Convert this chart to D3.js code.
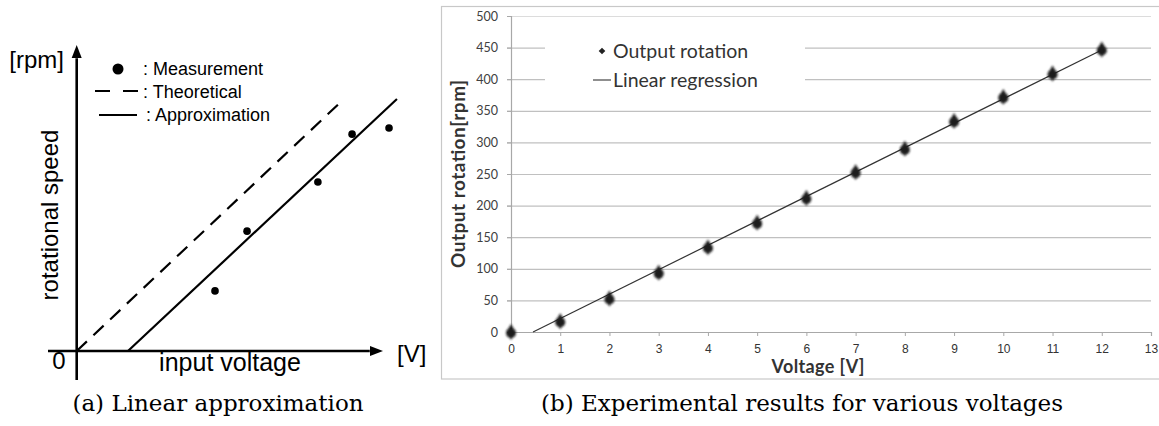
<!DOCTYPE html>
<html>
<head>
<meta charset="utf-8">
<script src="https://cdn.jsdelivr.net/npm/d3@7"></script>
<style>
  html, body { margin: 0; padding: 0; background: #fff; }
  svg { display: block; }
</style>
</head>
<body>
<svg id="fig" width="1159" height="426"></svg>
<script>
// ---------- (a) conceptual sketch: linear approximation ----------
const sketchMeasuredV   = [4.53, 5.58, 7.90, 9.02, 10.23];
const sketchMeasuredRpm = [1.97, 3.93, 5.54, 7.11, 7.31];
const theoreticalLine   = [[0, 0], [8.75, 8.26]];
const approximationLine = [[1.68, 0], [10.49, 8.26]];
const sketchLegend = [": Measurement", ": Theoretical", ": Approximation"];

// ---------- (b) measured output rotation vs voltage ----------
const voltages   = [0, 1, 2, 3, 4, 5, 6, 7, 8, 9, 10, 11, 12];
const rotations  = [0, 17, 53, 94, 134, 173, 212, 253, 290, 334, 372, 409, 447];
const xTickVals  = [0, 1, 2, 3, 4, 5, 6, 7, 8, 9, 10, 11, 12, 13];
const yTickVals  = [0, 50, 100, 150, 200, 250, 300, 350, 400, 450, 500];
const chartLegend = ["Output rotation", "Linear regression"];

const svg = d3.select("#fig");

// ================= panel (a) =================
{
  const x = d3.scaleLinear().domain([0, 10]).range([76.7, 382]);
  const y = d3.scaleLinear().domain([0, 10]).range([351, 46]);
  const g = svg.append("g").attr("font-family", "'Liberation Sans', Arial, sans-serif");

  // axes with arrow heads
  g.append("line").attr("x1", x(0)).attr("x2", x(0)).attr("y1", 380).attr("y2", y(9.6))
    .attr("stroke", "#000").attr("stroke-width", 2.6);
  g.append("line").attr("x1", 48).attr("x2", x(9.6)).attr("y1", y(0)).attr("y2", y(0))
    .attr("stroke", "#000").attr("stroke-width", 2.6);
  g.append("path")
    .attr("d", `M${x(0)},${y(10) - 1} L${x(0) - 5},${y(10) + 12} L${x(0) + 5},${y(10) + 12} Z`)
    .attr("fill", "#000");
  g.append("path")
    .attr("d", `M${x(10) + 1},${y(0)} L${x(10) - 12},${y(0) - 5} L${x(10) - 12},${y(0) + 5} Z`)
    .attr("fill", "#000");

  const line = d3.line().x(d => x(d[0])).y(d => y(d[1]));
  g.append("path").attr("d", line(theoreticalLine)).attr("fill", "none")
    .attr("stroke", "#000").attr("stroke-width", 2.2).attr("stroke-dasharray", "14,9");
  g.append("path").attr("d", line(approximationLine)).attr("fill", "none")
    .attr("stroke", "#000").attr("stroke-width", 2.2);

  g.selectAll("circle.meas").data(sketchMeasuredV).join("circle")
    .attr("class", "meas")
    .attr("cx", d => x(d))
    .attr("cy", (d, i) => y(sketchMeasuredRpm[i]))
    .attr("r", 3.8).attr("fill", "#000");

  // axis labels
  g.append("text").attr("x", 64).attr("y", 68).attr("text-anchor", "end")
    .attr("font-size", 24).text("[rpm]");
  g.append("text").attr("x", 397).attr("y", 362).attr("font-size", 24).text("[V]");
  g.append("text").attr("x", 59).attr("y", 369).attr("text-anchor", "middle")
    .attr("font-size", 24).text("0");
  g.append("text").attr("x", 230).attr("y", 371).attr("text-anchor", "middle")
    .attr("font-size", 25).text("input voltage");
  g.append("text").attr("transform", "translate(58,215) rotate(-90)")
    .attr("text-anchor", "middle").attr("font-size", 24).text("rotational speed");

  // legend
  g.append("circle").attr("cx", 118).attr("cy", 69).attr("r", 5.5).attr("fill", "#000");
  g.append("line").attr("x1", 95).attr("x2", 138).attr("y1", 91).attr("y2", 91)
    .attr("stroke", "#000").attr("stroke-width", 2.2).attr("stroke-dasharray", "15,13");
  g.append("line").attr("x1", 99).attr("x2", 137).attr("y1", 115).attr("y2", 115)
    .attr("stroke", "#000").attr("stroke-width", 2.2);
  g.selectAll("text.leg").data(sketchLegend).join("text")
    .attr("class", "leg")
    .attr("x", (d, i) => i === 2 ? 146 : 143)
    .attr("y", (d, i) => 75 + i * 23)
    .attr("font-size", 18).text(d => d);

  svg.append("text").attr("x", 218).attr("y", 411).attr("text-anchor", "middle")
    .attr("font-family", "'DejaVu Serif', serif").attr("font-size", 23)
    .text("(a) Linear approximation");
}

// ================= panel (b) =================
{
  const x = d3.scaleLinear().domain([0, 13]).range([511, 1151]);
  const y = d3.scaleLinear().domain([0, 500]).range([332, 16]);
  const g = svg.append("g").attr("font-family", "Lato, 'Open Sans', sans-serif");

  const defs = svg.append("defs");
  defs.append("filter").attr("id", "soft").attr("x", "-50%").attr("y", "-50%")
    .attr("width", "200%").attr("height", "200%")
    .append("feGaussianBlur").attr("stdDeviation", 1.1);

  // outer chart frame
  g.append("rect").attr("x", 441.5).attr("y", 6.5).attr("width", 730).attr("height", 372.5)
    .attr("fill", "#fff").attr("stroke", "#c8c8c8").attr("stroke-width", 1.2);

  // horizontal gridlines with left tick marks
  g.append("g").selectAll("line").data(yTickVals.filter(v => v > 0)).join("line")
    .attr("x1", x(0) - 4).attr("x2", x(13))
    .attr("y1", d => y(d) + 0.5).attr("y2", d => y(d) + 0.5)
    .attr("stroke", d => d === 500 ? "#dcdcdc" : "#c0c0c0").attr("stroke-width", 1.2);

  // y axis
  const yAxis = d3.axisLeft(y).tickValues(yTickVals).tickSize(4).tickPadding(9);
  const ya = g.append("g").attr("transform", `translate(${x(0)},0)`).call(yAxis);
  ya.select(".domain").attr("stroke", "#a8a8a8").attr("stroke-width", 1.2);
  ya.selectAll(".tick line").attr("stroke", "#a8a8a8");
  ya.selectAll(".tick text").attr("font-family", "Lato, sans-serif").attr("font-size", 12.5)
    .attr("fill", "#404040");

  // x axis
  const xAxis = d3.axisBottom(x).tickValues(xTickVals).tickSize(4).tickPadding(8)
    .tickFormat(d3.format("d"));
  const xa = g.append("g").attr("transform", `translate(0,${y(0)})`).call(xAxis);
  xa.select(".domain").attr("stroke", "#a8a8a8").attr("stroke-width", 1.2);
  xa.selectAll(".tick line").attr("stroke", "#a8a8a8");
  xa.selectAll(".tick text").attr("font-family", "'Liberation Sans', sans-serif")
    .attr("font-size", 12).attr("fill", "#333");

  // axis titles
  g.append("text").attr("x", 818).attr("y", 373).attr("text-anchor", "middle")
    .attr("font-size", 18).attr("font-weight", "bold").attr("fill", "#333")
    .attr("textLength", 93).attr("lengthAdjust", "spacing")
    .text("Voltage [V]");
  g.append("text").attr("transform", "translate(465,174) rotate(-90)")
    .attr("text-anchor", "middle").attr("font-size", 19).attr("font-weight", "bold")
    .attr("textLength", 188).attr("lengthAdjust", "spacing")
    .attr("fill", "#333").text("Output rotation[rpm]");

  // legend box (hides gridlines behind it)
  g.append("rect").attr("x", 545).attr("y", 28).attr("width", 260).attr("height", 70)
    .attr("fill", "#fff");
  g.append("path").attr("d", d3.symbol(d3.symbolDiamond2, 28)())
    .attr("transform", "translate(602,51)").attr("fill", "#222");
  g.append("line").attr("x1", 593).attr("x2", 611).attr("y1", 80).attr("y2", 80)
    .attr("stroke", "#444").attr("stroke-width", 1.2);
  g.selectAll("text.leg").data(chartLegend).join("text")
    .attr("class", "leg").attr("x", 613).attr("y", (d, i) => 58 + i * 29)
    .attr("font-size", 19.5).attr("fill", "#333").text(d => d);

  // least-squares regression of the measurements
  const n = voltages.length;
  const mx = d3.mean(voltages), my = d3.mean(rotations);
  const slope = d3.sum(voltages, (v, i) => (v - mx) * (rotations[i] - my)) /
                d3.sum(voltages, v => (v - mx) ** 2);
  const intercept = my - slope * mx;
  const xStart = -intercept / slope;
  const xEnd = voltages[n - 1];
  g.append("line")
    .attr("x1", x(xStart)).attr("y1", y(0))
    .attr("x2", x(xEnd)).attr("y2", y(intercept + slope * xEnd))
    .attr("stroke", "#333").attr("stroke-width", 1.2);

  // measurement markers (soft-edged diamonds)
  const markers = g.append("g").attr("filter", "url(#soft)")
    .selectAll("g").data(voltages).join("g")
    .attr("transform", (d, i) => `translate(${x(d)},${y(rotations[i])})`);
  markers.append("path").attr("d", d3.symbol(d3.symbolDiamond, 72)()).attr("fill", "#1a1a1a");
  markers.append("circle").attr("r", 5).attr("cy", 1).attr("fill", "#1a1a1a");

  svg.append("text").attr("x", 802).attr("y", 411).attr("text-anchor", "middle")
    .attr("font-family", "'DejaVu Serif', serif").attr("font-size", 23)
    .text("(b) Experimental results for various voltages");
}
</script>
</body>
</html>
